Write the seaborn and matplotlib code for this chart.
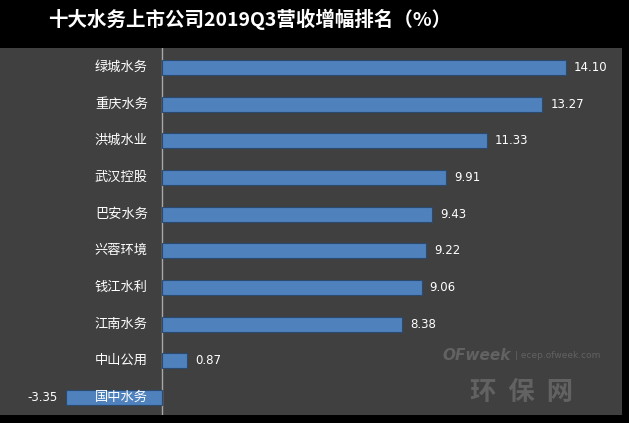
import matplotlib
matplotlib.use('Agg')
import matplotlib.pyplot as plt
import pandas as pd
import seaborn as sns

# 数据：营收增幅（%）
companies = ['绿城水务', '重庆水务', '洪城水业', '武汉控股', '巴安水务',
             '兴蓉环境', '钱江水利', '江南水务', '中山公用', '国中水务']
growth = [14.10, 13.27, 11.33, 9.91, 9.43, 9.22, 9.06, 8.38, 0.87, -3.35]

title = '十大水务上市公司2019Q3营收增幅排名（%）'

BAR_COLOR = '#4f81bd'
PANEL_COLOR = '#404040'
MARK_COLOR = '#626262'

sns.set_theme(style='dark')
plt.rcParams['font.family'] = ['Noto Sans CJK SC', 'DejaVu Sans']

df = pd.DataFrame({'company': companies, 'growth': growth})

fig = plt.figure(figsize=(6.29, 4.23), dpi=100, facecolor='black')
ax = fig.add_axes([0, 8 / 423, 622 / 629, 367 / 423])
ax.set_facecolor(PANEL_COLOR)

sns.barplot(data=df, x='growth', y='company', orient='h', color=BAR_COLOR,
            width=0.41, edgecolor='#2b4a70', linewidth=0.8, saturation=1, ax=ax)

ax.set_xlim(-5.65, 16.05)
ax.set_ylim(9.48, -0.53)
ax.axvline(0, color='#a8a8a8', lw=1, zorder=0.5)

for s in ax.spines.values():
    s.set_visible(False)
ax.set_xticks([])
ax.set_yticks([])
ax.set_xlabel('')
ax.set_ylabel('')
ax.grid(False)

# 公司名称（零轴左侧）与数值标签
for i, (name, val) in enumerate(zip(companies, growth)):
    ax.text(-0.49, i, name, ha='right', va='center', color='white', fontsize=9.5)
    if val >= 0:
        ax.text(val + 0.28, i, f'{val:.2f}', ha='left', va='center',
                color='white', fontsize=8.5, family='DejaVu Sans')
    else:
        ax.text(val - 0.28, i, f'{val:.2f}', ha='right', va='center',
                color='white', fontsize=8.5, family='DejaVu Sans')

# 标题
fig.text(250 / 629, 1 - 19 / 423, title, ha='center', va='center',
         color='white', fontsize=14, fontweight='bold')

# 水印
fig.text(442 / 629, 1 - 355 / 423, 'OFweek', ha='left', va='center',
         color=MARK_COLOR, fontsize=11, fontweight='bold', style='italic',
         family='DejaVu Sans')
fig.text(515 / 629, 1 - 355 / 423, '| ecep.ofweek.com', ha='left', va='center',
         color=MARK_COLOR, fontsize=6.5, family='DejaVu Sans')
fig.text(522 / 629, 1 - 392 / 423, '环  保  网', ha='center', va='center',
         color=MARK_COLOR, fontsize=19, fontweight='bold')

fig.savefig('out.png', dpi=100, facecolor='black')
